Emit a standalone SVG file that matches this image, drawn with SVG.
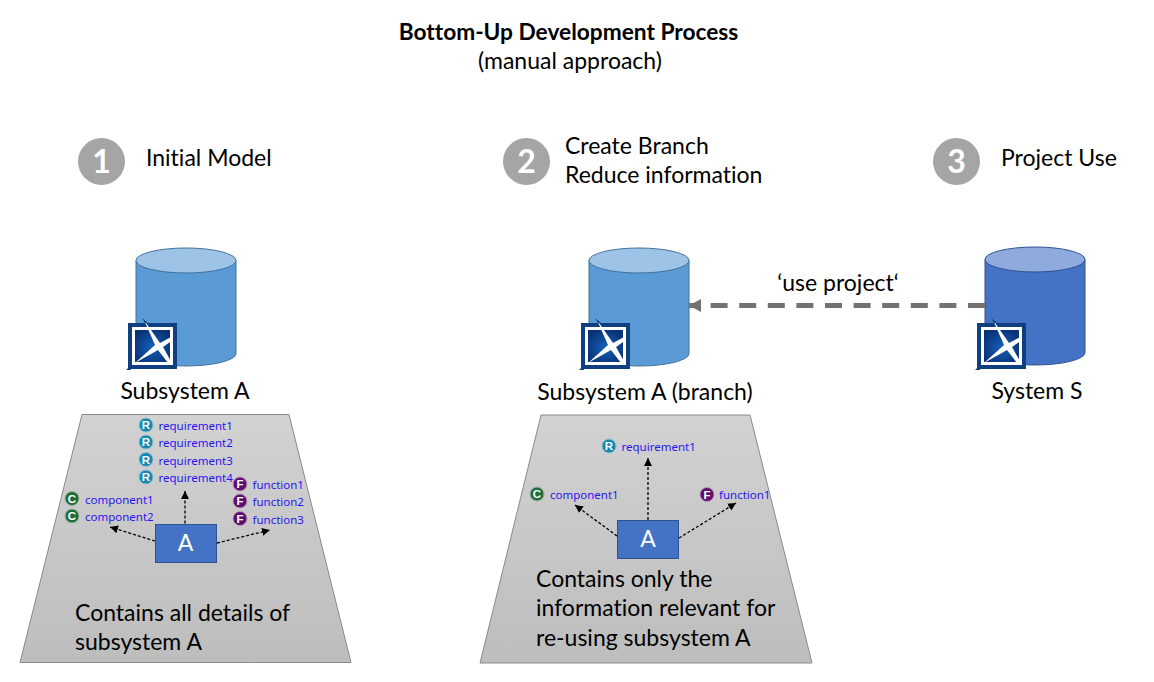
<svg xmlns="http://www.w3.org/2000/svg" width="1154" height="682" viewBox="0 0 1154 682">
<style>
.t{font-family:"Lato","Liberation Sans",sans-serif;font-size:23px;fill:#000;font-variant-ligatures:none}
.b{font-weight:700;font-size:22.700px}
.mid{text-anchor:middle}
.num{font-family:"Lato","Liberation Sans",sans-serif;font-size:32px;font-weight:700;fill:#fff;text-anchor:middle}
.lab{font-family:"Noto Sans","Open Sans",sans-serif;font-size:11.500px;fill:#2a14f0}
.ic{font-family:"Liberation Sans",sans-serif;font-size:11.500px;font-weight:700;fill:#fff;text-anchor:middle}
.c{fill:#1f6b3a;stroke:#9ab8a4;stroke-width:1}
.f{fill:#5f0f6b;stroke:#b596ba;stroke-width:1}
.r{fill:#1787ad;stroke:#8ec0d2;stroke-width:1}
.box{fill:#4472c4;stroke:#2f528f;stroke-width:1}
.A{font-family:"Lato","Liberation Sans",sans-serif;font-size:23px;fill:#fff;text-anchor:middle}
.trap{fill:url(#g);stroke:#8a8a8a;stroke-width:1}
.dot{fill:none;stroke:#000;stroke-width:1.300;stroke-dasharray:3 2;marker-end:url(#ah)}
</style>
<defs>
<linearGradient id="g" x1="0" y1="0" x2="0" y2="1"><stop offset="0" stop-color="#d2d2d2"/><stop offset="1" stop-color="#bdbdbd"/></linearGradient>
<radialGradient id="lg" cx="0.500" cy="0.550" r="0.600"><stop offset="0" stop-color="#1560b8"/><stop offset="1" stop-color="#0a3276"/></radialGradient>
<marker id="ah" markerUnits="userSpaceOnUse" markerWidth="10" markerHeight="10" refX="8" refY="4" orient="auto"><path d="M0 0L8 4L0 8Z" fill="#000"/></marker>
<marker id="big" markerUnits="userSpaceOnUse" markerWidth="14" markerHeight="14" refX="12" refY="6.500" orient="auto"><path d="M0 0L12 6.500L0 13Z" fill="#767171"/></marker>
<symbol id="logo" overflow="visible">
<rect x="0" y="0" width="49" height="46" fill="#0f3f80"/>
<rect x="4" y="4" width="41" height="38" fill="#fff"/>
<rect x="7" y="7" width="35" height="32" fill="url(#lg)"/>
<path d="M16-3L32 20L45 13V17L35 24L44 40H40L30 27L7 40L27 22Z" fill="#fff"/>
<path d="M-2 47L3 42V47Z M14-5L20 0H17Z" fill="#0f3f80"/>
</symbol>
</defs>

<g id="title">
<text class="t b mid" x="568.500" y="40">Bottom-Up Development Process</text>
<text class="t mid" x="570" y="69">(manual approach)</text>
</g>

<g id="step1"><circle cx="101.500" cy="161.500" r="23.500" fill="#a5a5a5"/><text class="num" x="101.500" y="173">1</text><text class="t" x="146" y="166">Initial Model</text></g>
<g id="step2"><circle cx="526.500" cy="161.500" r="23.500" fill="#a5a5a5"/><text class="num" x="526.500" y="173">2</text><text class="t" x="565" y="154">Create Branch</text><text class="t" x="565" y="183">Reduce information</text></g>
<g id="step3"><circle cx="956.500" cy="161.500" r="23.500" fill="#a5a5a5"/><text class="num" x="956.500" y="173">3</text><text class="t" x="1001" y="166">Project Use</text></g>

<g id="db-a">
<path d="M136 260.500V353.500A50 12.500 0 0 0 236 353.500V260.500Z" fill="#5b9bd5" stroke="#41719c"/>
<ellipse cx="186" cy="260.500" rx="50" ry="12.500" fill="#9dc3e6" stroke="#41719c"/>
<use href="#logo" x="128" y="323"/>
<text class="t mid" x="185" y="399">Subsystem A</text>
</g>
<g id="db-a-branch">
<path d="M589 260.500V353.500A50 12.500 0 0 0 689 353.500V260.500Z" fill="#5b9bd5" stroke="#41719c"/>
<ellipse cx="639" cy="260.500" rx="50" ry="12.500" fill="#9dc3e6" stroke="#41719c"/>
<use href="#logo" x="581" y="323"/>
<text class="t mid" x="645" y="400">Subsystem A (branch)</text>
</g>
<g id="db-s">
<path d="M985 259.500V352.500A50 12.500 0 0 0 1085 352.500V259.500Z" fill="#4472c4" stroke="#2f528f"/>
<ellipse cx="1035" cy="259.500" rx="50" ry="12.500" fill="#8faadc" stroke="#2f528f"/>
<use href="#logo" x="977" y="323"/>
<text class="t mid" x="1037" y="399">System S</text>
</g>

<g id="use-label"><text class="t mid" x="838" y="291">‘use project‘</text></g>

<g id="panel-a">
<path class="trap" d="M82 414.500H289L351 662.500H20Z"/>
<text class="t" x="75" y="621">Contains all details of</text>
<text class="t" x="75" y="650">subsystem A</text>
</g>
<g id="panel-b">
<path class="trap" d="M541 415H750L812 663H480Z"/>
<text class="t" x="536" y="587">Contains only the</text>
<text class="t" x="536" y="616">information relevant for</text>
<text class="t" x="536" y="646">re-using subsystem A</text>
</g>

<g id="connectors">
<path d="M985 305.500H689" fill="none" stroke="#767171" stroke-width="5" stroke-dasharray="17 11.600" marker-end="url(#big)"/>
<path class="dot" d="M185 523.500V491"/>
<path class="dot" d="M155 541L110 527"/>
<path class="dot" d="M217 543L270 530"/>
<path class="dot" d="M648 520V458"/>
<path class="dot" d="M617 536L575 505"/>
<path class="dot" d="M679 538L736 503"/>
</g>

<g id="node-a1"><rect class="box" x="155.500" y="524.500" width="61" height="38"/><text class="A" x="185.500" y="551">A</text></g>
<g id="items-a">
<circle class="r" cx="146" cy="425" r="7"/><text class="ic" x="146" y="429">R</text><text class="lab" x="158.500" y="430">requirement1</text>
<circle class="r" cx="146" cy="442" r="7"/><text class="ic" x="146" y="446">R</text><text class="lab" x="158.500" y="447">requirement2</text>
<circle class="r" cx="146" cy="459.500" r="7"/><text class="ic" x="146" y="463.500">R</text><text class="lab" x="158.500" y="464.500">requirement3</text>
<circle class="r" cx="146" cy="477" r="7"/><text class="ic" x="146" y="481">R</text><text class="lab" x="158.500" y="482">requirement4</text>
<circle class="f" cx="240" cy="484" r="7"/><text class="ic" x="240" y="488">F</text><text class="lab" x="252.500" y="489">function1</text>
<circle class="f" cx="240" cy="501" r="7"/><text class="ic" x="240" y="505">F</text><text class="lab" x="252.500" y="506">function2</text>
<circle class="f" cx="240" cy="518.500" r="7"/><text class="ic" x="240" y="522.500">F</text><text class="lab" x="252.500" y="523.500">function3</text>
<circle class="c" cx="72" cy="498.500" r="7"/><text class="ic" x="72" y="502.500">C</text><text class="lab" x="85" y="503.500">component1</text>
<circle class="c" cx="72" cy="516" r="7"/><text class="ic" x="72" y="520">C</text><text class="lab" x="85" y="521">component2</text>
</g>

<g id="node-a2"><rect class="box" x="617.500" y="520.500" width="61" height="38"/><text class="A" x="648" y="547">A</text></g>
<g id="items-b">
<circle class="r" cx="609" cy="446" r="7"/><text class="ic" x="609" y="450">R</text><text class="lab" x="621.500" y="451">requirement1</text>
<circle class="c" cx="537" cy="494" r="7"/><text class="ic" x="537" y="498">C</text><text class="lab" x="550" y="499">component1</text>
<circle class="f" cx="707" cy="494.500" r="7"/><text class="ic" x="707" y="498.500">F</text><text class="lab" x="719" y="499">function1</text>
</g>
</svg>
